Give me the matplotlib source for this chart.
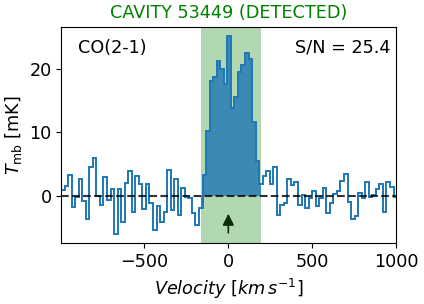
import numpy as np
import matplotlib
matplotlib.use('Agg')
import matplotlib.pyplot as plt

# spectrum channels (mK), left to right
v_first_edge = -998.0
dv = 21.1
t_mb = [0.9, 1.5, 3.2, -1.8, -0.2, 2.6, -0.9, -3.6, 4.5, 5.9,
        0.0, -1.5, 2.9, -0.7, 1.0, -6.0, 1.0, -4.2, 2.0, 3.9,
        -2.6, 3.1, 1.8, -2.1, 1.8, -1.2, -5.4, -1.7, -4.2, -2.6,
        4.1, -2.3, 2.6, -3.1, 1.2, -0.2, -0.3, -2.8, -4.7, -2.0,
        # line emission
        3.3, 10.2, 18.1, 18.7, 21.3, 20.1, 17.7, 25.2, 13.9, 15.6,
        19.6, 20.6, 22.6, 21.6, 11.7, 5.5,
        # after the line
        1.8, 3.1, 3.9, 1.9, 4.6, -3.1, -1.4, -1.2, 2.6, 1.7,
        2.2, -1.5, 0.1, -2.0, -0.4, 0.8, -1.6, -0.4, 1.3, -2.7,
        -1.1, 0.2, 0.8, 2.4, 3.4, -1.0, -3.7, -3.2, 0.5, -0.3,
        2.1, -0.2, 0.1, 1.0, 1.8, -2.5, 2.1, 1.4, -0.2]

line_window = (-160, 196)
title = 'CAVITY 53449 (DETECTED)'
line_name = 'CO(2-1)'
snr = 25.4

t_mb = np.array(t_mb)
edges = v_first_edge + dv * np.arange(len(t_mb) + 1)

fig = plt.figure(figsize=(4.24, 3.04), dpi=100)
ax = fig.add_axes([0.1446, 0.2, 0.7894, 0.712])
fs = 12.7

ax.axvspan(line_window[0], line_window[1], color='green', alpha=0.3, lw=0)
ax.stairs(t_mb, np.clip(edges, *line_window), fill=True, baseline=0,
          color='C0', alpha=0.8, lw=0)
ax.stairs(t_mb, edges, baseline=None, color='C0', lw=1.4)
ax.axhline(0, color='k', ls='--', lw=1.5, alpha=0.8)

# arrow marking the systemic velocity
ax.annotate('', xy=(0, -2.4), xytext=(0, -6.3),
            arrowprops=dict(arrowstyle='-|>', color='#0b2b0b', lw=1.2,
                            mutation_scale=17))

ax.text(0.05, 0.945, line_name, transform=ax.transAxes, fontsize=fs,
        ha='left', va='top')
ax.text(0.985, 0.945, 'S/N = %.1f' % snr, transform=ax.transAxes, fontsize=fs,
        ha='right', va='top')

ax.set_xlim(-996, 1000)
ax.set_ylim(-7.5, 26.7)
ax.set_xticks([-500, 0, 500, 1000])
ax.set_yticks([0, 10, 20])
ax.tick_params(labelsize=fs)
ax.set_xlabel(r'$Velocity\ [km\,s^{-1}]$', fontsize=fs)
ax.set_ylabel(r'$T_{\rm mb}$ [mK]', fontsize=fs)
ax.set_title(title, color='green', fontsize=fs)

fig.savefig('out.png', dpi=100)
